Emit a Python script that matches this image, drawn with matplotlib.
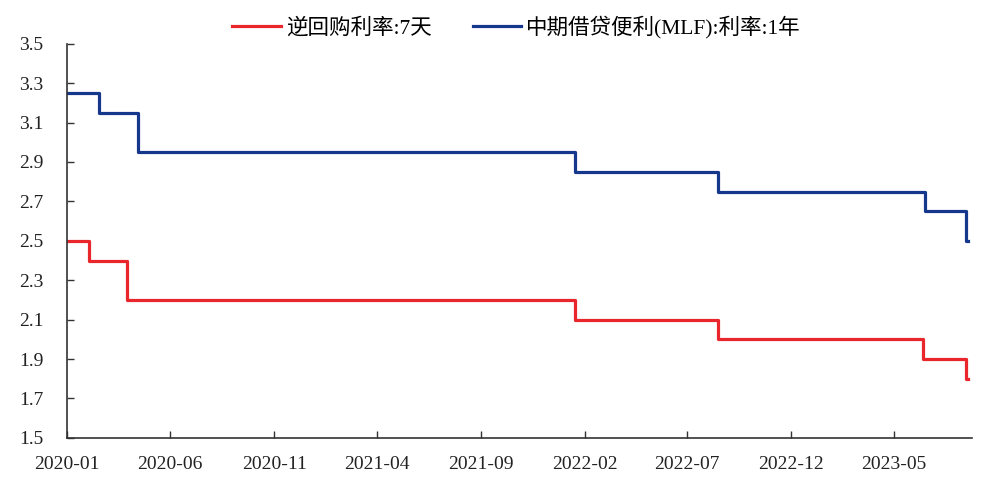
import matplotlib
matplotlib.use("Agg")
import matplotlib.pyplot as plt
import matplotlib.dates as mdates
import numpy as np
import pandas as pd

plt.rcParams['font.family'] = ['Liberation Serif', 'Noto Sans CJK SC']

# policy rate change dates and levels (step series)
repo_dates = ['2020-01-01', '2020-02-03', '2020-03-30', '2022-01-17',
              '2022-08-15', '2023-06-13', '2023-08-15', '2023-08-18']
repo_rate = [2.5, 2.4, 2.2, 2.1, 2.0, 1.9, 1.8, 1.8]

mlf_dates = ['2020-01-01', '2020-02-17', '2020-04-15', '2022-01-17',
             '2022-08-15', '2023-06-15', '2023-08-15', '2023-08-18']
mlf_rate = [3.25, 3.15, 2.95, 2.85, 2.75, 2.65, 2.5, 2.5]

repo_label = '逆回购利率:7天'
mlf_label = '中期借贷便利(MLF):利率:1年'

tick_months = ['2020-01', '2020-06', '2020-11', '2021-04', '2021-09',
               '2022-02', '2022-07', '2022-12', '2023-05']

fig = plt.figure(figsize=(9.84, 4.86), dpi=100)
ax = fig.add_axes([0.068, 0.099, 0.92, 0.811])

ax.plot(pd.to_datetime(repo_dates), repo_rate, drawstyle='steps-post',
        color='#E8262B', lw=2.3, label=repo_label)
ax.plot(pd.to_datetime(mlf_dates), mlf_rate, drawstyle='steps-post',
        color='#15388C', lw=2.3, label=mlf_label)

ax.set_ylim(1.5, 3.5)
ax.set_yticks(np.arange(1.5, 3.51, 0.2))
ax.yaxis.set_major_formatter(plt.FuncFormatter(lambda v, p: f'{v:.1f}'))
ax.set_xlim(pd.Timestamp('2020-01-01'), pd.Timestamp('2023-08-24'))
ax.set_xticks(pd.to_datetime(tick_months))
ax.xaxis.set_major_formatter(mdates.DateFormatter('%Y-%m'))

for s in ['top', 'right']:
    ax.spines[s].set_visible(False)
for s in ['left', 'bottom']:
    ax.spines[s].set_color('#333333')
    ax.spines[s].set_linewidth(1.2)
ax.tick_params(direction='in', length=5, width=1, color='#333333',
               labelsize=14, labelcolor='#222222')
ax.tick_params(axis='y', pad=17)
ax.tick_params(axis='x', pad=13)

fig.legend(loc='center', bbox_to_anchor=(0.525, 0.945), ncol=2, frameon=False,
           fontsize=15.5, handlelength=2.25, handletextpad=0.25, columnspacing=1.9)

fig.savefig('out.png', dpi=100)
